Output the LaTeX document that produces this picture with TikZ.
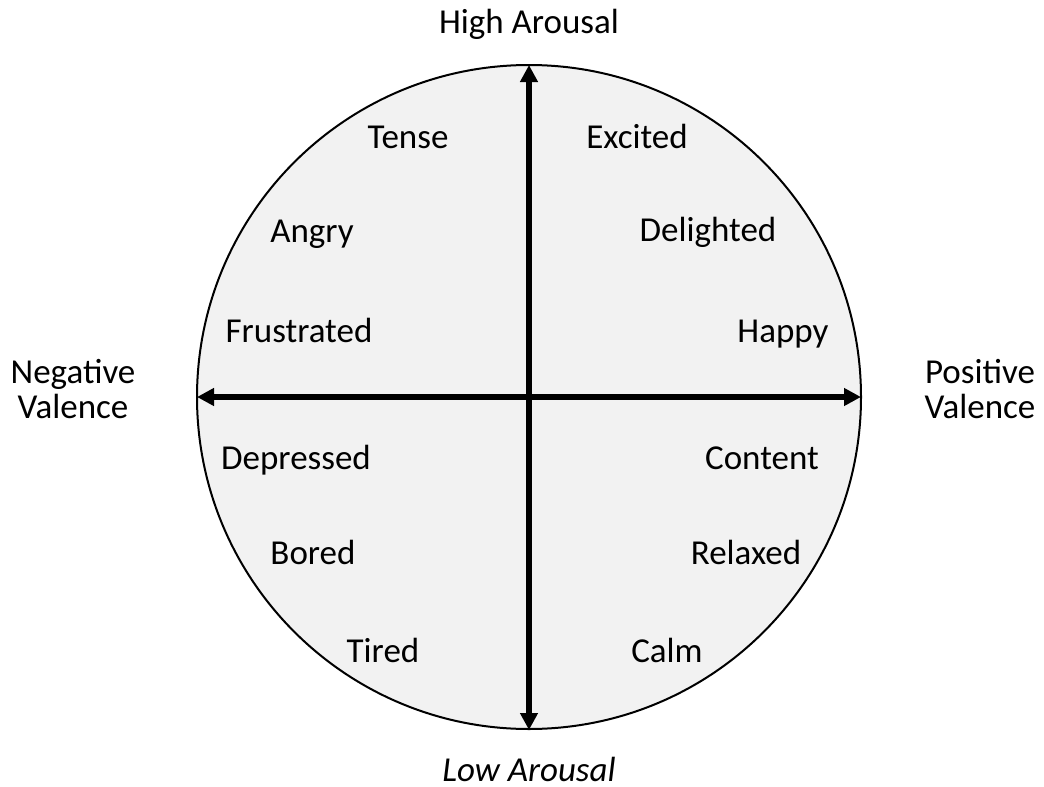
\documentclass[tikz,border=0pt]{standalone}
\usepackage{fontspec}
\setmainfont{Carlito}
\usetikzlibrary{arrows.meta}
\begin{document}
\begin{tikzpicture}[x=1pt,y=-1pt,
  lbl/.style={font=\fontsize{35}{35}\selectfont, inner sep=0pt, align=center, anchor=base},
  axis/.style={line width=5.5pt, {Triangle[length=17pt,width=17pt]}-{Triangle[length=17pt,width=17pt]}}]
\useasboundingbox (0,0) rectangle (1044,787);
\node[circle, draw, line width=2pt, fill={rgb,255:red,242;green,242;blue,242}, minimum size=664pt, inner sep=0pt] (c) at (529,397) {};
\coordinate (top) at (529,65);
\coordinate (bot) at (529,730);
\coordinate (lft) at (197,397);
\coordinate (rgt) at (861,397);
\draw[axis] (top) -- (bot);
\draw[axis] (lft) -- (rgt);
\node[lbl] (ha) at (529,33) {High Arousal};
\node[lbl] (la) at (529,781) {\itshape Low Arousal};
\node[lbl] (nv) at (73,418) {Negative\\Valence};
\node[lbl] (pv) at (980,418) {Positive\\Valence};
\node[lbl] (tense) at (408,148) {Tense};
\node[lbl] (excited) at (637,148) {Excited};
\node[lbl] (angry) at (312,242) {Angry};
\node[lbl] (delighted) at (708,241) {Delighted};
\node[lbl] (frustrated) at (299,342) {Frustrated};
\node[lbl] (happy) at (783,342) {Happy};
\node[lbl] (depressed) at (296,469) {Depressed};
\node[lbl] (content) at (762,469) {Content};
\node[lbl] (bored) at (313,564) {Bored};
\node[lbl] (relaxed) at (746,564) {Relaxed};
\node[lbl] (tired) at (383,662) {Tired};
\node[lbl] (calm) at (667,662) {Calm};
\end{tikzpicture}
\end{document}
